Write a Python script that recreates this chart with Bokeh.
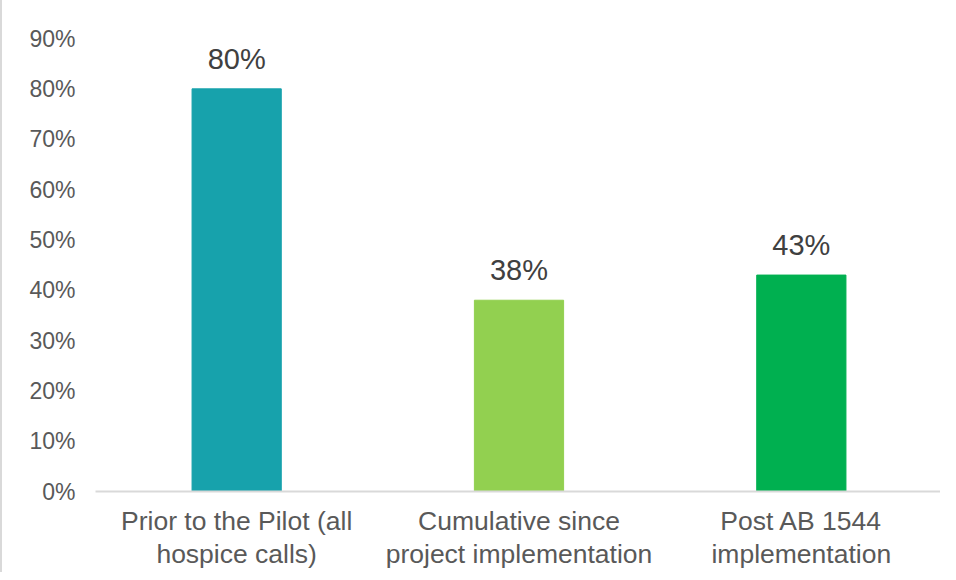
from bokeh.plotting import figure
from bokeh.models import ColumnDataSource, NumeralTickFormatter, FixedTicker, Range1d, FactorRange
from bokeh.core.properties import value
from bokeh.embed import file_html
from bokeh.resources import INLINE

categories = ["Prior to the Pilot (all\nhospice calls)",
              "Cumulative since\nproject implementation",
              "Post AB 1544\nimplementation"]
values = [0.80, 0.38, 0.43]
value_labels = ["80%", "38%", "43%"]
colors = ["#17A2AC", "#92D050", "#00B050"]
y_ticks = [0.0, 0.1, 0.2, 0.3, 0.4, 0.5, 0.6, 0.7, 0.8, 0.9]

FONT = "Liberation Sans"

src = ColumnDataSource(dict(cat=categories, val=values, lab=value_labels, col=colors))

p = figure(width=940, height=572, x_range=FactorRange(*categories), y_range=Range1d(0, 0.9),
           output_backend="svg", toolbar_location=None,
           min_border_left=93, min_border_right=0, min_border_top=38, min_border_bottom=81)
p.styles = {"border-left": "2px solid #D9D9D9"}
p.outline_line_color = None
p.grid.grid_line_color = None
p.background_fill_color = "white"
p.border_fill_color = "white"

p.vbar(x="cat", top="val", width=0.316, color="col", source=src)
p.text(x="cat", y="val", text="lab", source=src, text_align="center", text_baseline="alphabetic",
       y_offset=-30, text_font=value(FONT), text_font_size="29px", text_color="#404040")

p.yaxis.ticker = FixedTicker(ticks=y_ticks)
p.yaxis.formatter = NumeralTickFormatter(format="0%")
p.yaxis.axis_line_color = None
p.yaxis.major_tick_line_color = None
p.yaxis.minor_tick_line_color = None
p.yaxis.major_label_text_font = FONT
p.yaxis.major_label_text_font_size = "23px"
p.yaxis.major_label_text_color = "#595959"
p.yaxis.major_label_standoff = 14

p.xaxis.axis_line_color = "#D9D9D9"
p.xaxis.axis_line_width = 2
p.xaxis.major_tick_line_color = None
p.xaxis.minor_tick_line_color = None
p.xaxis.major_label_text_font = FONT
p.xaxis.major_label_text_font_size = "26.5px"
p.xaxis.major_label_text_color = "#595959"
p.xaxis.major_label_standoff = 8
p.xaxis.major_label_text_line_height = 1.12

open("out.html", "w").write(file_html(p, INLINE))
